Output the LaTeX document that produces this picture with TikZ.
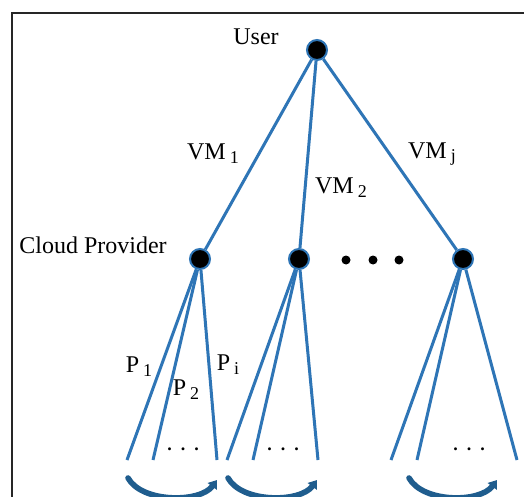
\documentclass[tikz,border=0pt]{standalone}
\usepackage{fontspec}
\setmainfont{Liberation Serif}
\usetikzlibrary{arrows.meta}
\definecolor{edgeblue}{HTML}{2E75B6}
\definecolor{arcblue}{HTML}{1F5D8E}
\newcommand{\sub}[1]{\,\raisebox{-0.35ex}{\small #1}}
\tikzset{
  vertex/.style={circle, fill=black, draw=edgeblue, line width=1pt, inner sep=0pt, minimum size=10pt},
  bigdot/.style={circle, fill=black, inner sep=0pt, minimum size=4.5pt},
  edge/.style={draw=edgeblue, line width=1.5pt},
  cycle arrow/.style={draw=arcblue, line width=2.8pt, line cap=round, -{Triangle[length=4pt,width=5.5pt]}},
  lbl/.style={font=\fontsize{12}{14}\selectfont, inner sep=0pt},
  smalldots/.style={font=\bfseries\fontsize{9}{10}\selectfont, inner sep=0pt}
}
\begin{document}
\begin{tikzpicture}[x=0.5pt, y=-0.5pt]
\useasboundingbox (0,0) rectangle (524,497);
\fill[white] (0,0) rectangle (524,497);
% frame corner
\draw[line width=1pt, black!85] (11.5,497) -- (11.5,13.5) -- (524,13.5);

% nodes
\node[vertex] (user) at (317,50) {};
\node[vertex] (cp1) at (200,259) {};
\node[vertex] (cp2) at (299,259) {};
\node[vertex] (cpj) at (463,259) {};
\node[bigdot] (d1) at (346,260) {};
\node[bigdot] (d2) at (373,260) {};
\node[bigdot] (d3) at (399,260) {};

% leaf ends
\coordinate (a1) at (127,460); \coordinate (a2) at (153,460); \coordinate (a3) at (217,460);
\coordinate (b1) at (227,460); \coordinate (b2) at (253,460); \coordinate (b3) at (318,460);
\coordinate (c1) at (391,460); \coordinate (c2) at (417,460); \coordinate (c3) at (517,460);

% VM edges
\draw[edge] (user) -- (cp1);
\draw[edge] (user) -- (cp2);
\draw[edge] (user) -- (cpj);

% provider edges
\foreach \t in {a1,a2,a3} \draw[edge] (cp1) -- (\t);
\foreach \t in {b1,b2,b3} \draw[edge] (cp2) -- (\t);
\foreach \t in {c1,c2,c3} \draw[edge] (cpj) -- (\t);

% cyclic arrows under each group
\coordinate (s1) at (128,478); \coordinate (e1) at (217,480);
\coordinate (s2) at (228,478); \coordinate (e2) at (317,480);
\coordinate (s3) at (409,478); \coordinate (e3) at (497,480);
\draw[cycle arrow] (s1) .. controls (142,503) and (200,503) .. (e1);
\draw[cycle arrow] (s2) .. controls (242,503) and (300,503) .. (e2);
\draw[cycle arrow] (s3) .. controls (423,503) and (480,503) .. (e3);

% labels
\node[lbl] (tuser) at (256,37) {User};
\node[lbl] (tcp) at (93,245) {Cloud Provider};
\node[lbl] (tvm1) at (213,154) {VM\sub{1}};
\node[lbl] (tvm2) at (341,188) {VM\sub{2}};
\node[lbl] (tvmj) at (432,154) {VM\sub{j}};
\node[lbl] (tp1) at (139,367) {P\sub{1}};
\node[lbl] (tp2) at (186,390) {P\sub{2}};
\node[lbl] (tpi) at (228,365) {P\sub{i}};
\node[smalldots] (g1) at (183,449) {.\ \ .\ \ .};
\node[smalldots] (g2) at (283,449) {.\ \ .\ \ .};
\node[smalldots] (g3) at (469,449) {.\ \ .\ \ .};
\end{tikzpicture}
\end{document}
